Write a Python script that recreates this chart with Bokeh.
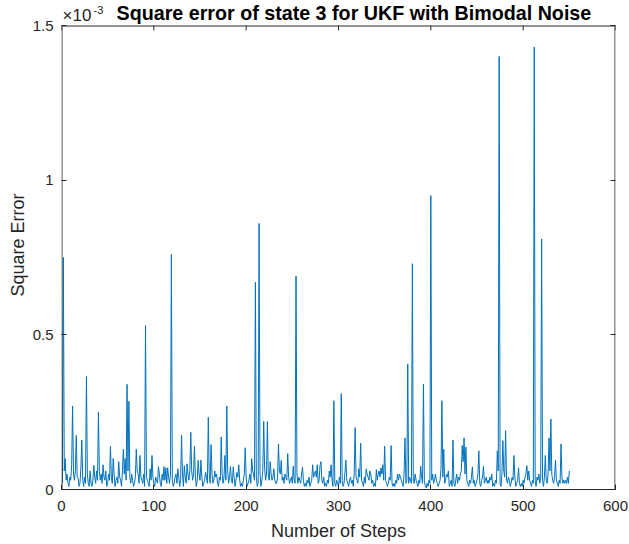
from bokeh.plotting import figure
from bokeh.models import (Range1d, LinearAxis, Label, FixedTicker,
                          CustomLabelingPolicy, BoxAnnotation)
from bokeh.embed import file_html
from bokeh.resources import INLINE

# Square error of state 3 (values in units of 1e-3), steps 1..550
sq_err_e3 = [
    0.02, 0.75, 0.06, 0.10, 0.03, 0.05, 0.02, 0.01, 0.04, 0.03,
    0.08, 0.27, 0.05, 0.03, 0.06, 0.175, 0.04, 0.035, 0.01, 0.02,
    0.07, 0.16, 0.03, 0.01, 0.04, 0.02, 0.365, 0.05, 0.02, 0.01,
    0.06, 0.02, 0.01, 0.03, 0.078, 0.04, 0.02, 0.06, 0.03, 0.25,
    0.06, 0.03, 0.05, 0.02, 0.08, 0.04, 0.03, 0.06, 0.01, 0.02,
    0.05, 0.03, 0.14, 0.04, 0.02, 0.10, 0.05, 0.01, 0.03, 0.04,
    0.02, 0.09, 0.04, 0.03, 0.01, 0.06, 0.13, 0.05, 0.10, 0.03,
    0.34, 0.06, 0.285, 0.04, 0.02, 0.05, 0.03, 0.01, 0.02, 0.04,
    0.13, 0.06, 0.05, 0.02, 0.11, 0.04, 0.03, 0.02, 0.05, 0.01,
    0.53, 0.04, 0.03, 0.02, 0.01, 0.067, 0.03, 0.11, 0.04, 0.02,
    0.01, 0.04, 0.03, 0.02, 0.074, 0.05, 0.02, 0.01, 0.05, 0.03,
    0.074, 0.03, 0.07, 0.02, 0.07, 0.04, 0.02, 0.05, 0.76, 0.03,
    0.01, 0.02, 0.04, 0.05, 0.02, 0.067, 0.04, 0.01, 0.03, 0.175,
    0.05, 0.01, 0.077, 0.04, 0.02, 0.083, 0.05, 0.03, 0.06, 0.185,
    0.06, 0.03, 0.05, 0.14, 0.04, 0.01, 0.03, 0.094, 0.05, 0.03,
    0.095, 0.04, 0.01, 0.02, 0.03, 0.056, 0.04, 0.02, 0.233, 0.05,
    0.02, 0.145, 0.05, 0.02, 0.03, 0.06, 0.04, 0.05, 0.02, 0.01,
    0.04, 0.03, 0.17, 0.05, 0.02, 0.04, 0.11, 0.03, 0.27, 0.06,
    0.02, 0.04, 0.075, 0.03, 0.02, 0.073, 0.04, 0.01, 0.03, 0.055,
    0.04, 0.08, 0.03, 0.01, 0.02, 0.01, 0.03, 0.05, 0.135, 0.04,
    0.01, 0.02, 0.03, 0.05, 0.02, 0.10, 0.06, 0.05, 0.03, 0.67,
    0.04, 0.01, 0.02, 0.86, 0.05, 0.01, 0.03, 0.06, 0.22, 0.07,
    0.03, 0.05, 0.22, 0.04, 0.03, 0.09, 0.05, 0.03, 0.04, 0.067,
    0.03, 0.02, 0.02, 0.04, 0.147, 0.06, 0.05, 0.094, 0.03, 0.04,
    0.02, 0.05, 0.04, 0.03, 0.116, 0.04, 0.02, 0.03, 0.04, 0.02,
    0.075, 0.03, 0.02, 0.69, 0.05, 0.02, 0.04, 0.03, 0.02, 0.05,
    0.072, 0.03, 0.01, 0.02, 0.01, 0.03, 0.02, 0.04, 0.01, 0.02,
    0.03, 0.08, 0.04, 0.05, 0.06, 0.04, 0.08, 0.02, 0.03, 0.077,
    0.09, 0.03, 0.02, 0.04, 0.01, 0.02, 0.01, 0.03, 0.02, 0.06,
    0.04, 0.08, 0.03, 0.01, 0.287, 0.02, 0.01, 0.03, 0.02, 0.01,
    0.04, 0.02, 0.31, 0.03, 0.01, 0.02, 0.056, 0.095, 0.03, 0.02,
    0.01, 0.03, 0.04, 0.02, 0.03, 0.01, 0.05, 0.20, 0.04, 0.03,
    0.02, 0.067, 0.04, 0.15, 0.03, 0.02, 0.01, 0.04, 0.02, 0.067,
    0.05, 0.04, 0.03, 0.06, 0.05, 0.02, 0.03, 0.01, 0.02, 0.01,
    0.064, 0.03, 0.05, 0.06, 0.04, 0.07, 0.05, 0.08, 0.03, 0.14,
    0.03, 0.02, 0.01, 0.02, 0.04, 0.03, 0.142, 0.02, 0.01, 0.02,
    0.01, 0.03, 0.02, 0.05, 0.03, 0.05, 0.04, 0.03, 0.02, 0.01,
    0.05, 0.167, 0.02, 0.03, 0.406, 0.02, 0.04, 0.03, 0.02, 0.73,
    0.03, 0.02, 0.05, 0.03, 0.02, 0.01, 0.03, 0.02, 0.075, 0.04,
    0.02, 0.34, 0.03, 0.01, 0.005, 0.02, 0.01, 0.03, 0.02, 0.95,
    0.03, 0.05, 0.02, 0.03, 0.05, 0.03, 0.02, 0.01, 0.02, 0.03,
    0.067, 0.287, 0.04, 0.13, 0.02, 0.03, 0.05, 0.04, 0.06, 0.01,
    0.02, 0.03, 0.01, 0.16, 0.02, 0.01, 0.03, 0.05, 0.02, 0.04,
    0.03, 0.05, 0.06, 0.142, 0.09, 0.167, 0.05, 0.137, 0.03, 0.02,
    0.01, 0.03, 0.02, 0.04, 0.073, 0.02, 0.03, 0.01, 0.02, 0.03,
    0.05, 0.125, 0.02, 0.01, 0.03, 0.04, 0.075, 0.02, 0.03, 0.04,
    0.02, 0.03, 0.02, 0.04, 0.03, 0.05, 0.01, 0.02, 0.01, 0.03,
    0.02, 0.125, 0.06, 1.40, 0.02, 0.01, 0.05, 0.158, 0.06, 0.04,
    0.19, 0.03, 0.02, 0.04, 0.03, 0.01, 0.02, 0.04, 0.03, 0.11,
    0.04, 0.01, 0.02, 0.03, 0.07, 0.02, 0.01, 0.02, 0.01, 0.03,
    0.02, 0.04, 0.05, 0.077, 0.03, 0.06, 0.03, 0.02, 0.01, 0.03,
    0.02, 1.43, 0.03, 0.01, 0.04, 0.03, 0.05, 0.02, 0.04, 0.81,
    0.03, 0.01, 0.04, 0.11, 0.03, 0.02, 0.05, 0.167, 0.06, 0.228,
    0.05, 0.03, 0.02, 0.04, 0.094, 0.03, 0.02, 0.01, 0.03, 0.02,
    0.147, 0.04, 0.02, 0.03, 0.02, 0.03, 0.02, 0.04, 0.02, 0.06,
]
steps = list(range(1, len(sq_err_e3) + 1))

x_ticks = [0, 100, 200, 300, 400, 500, 600]
y_ticks = [0, 0.5, 1, 1.5]
y_tick_labels = ["0", "0.5", "1", "1.5"]

title_text = "Square error of state 3 for UKF with Bimodal Noise"
x_label = "Number of Steps"
y_label = "Square Error"

FONT = "Liberation Sans"
INK = "#262626"

# axes box geometry (pixels)
W, H = 629, 544
LEFT, RIGHT, BOTTOM = 61, 14, 55
BOX_H = 464                     # pixel height of the 0..1.5 box
Y_MAX = 1.5
X_MAX = 600
px_y = Y_MAX / BOX_H            # data units per pixel (y)
px_x = X_MAX / (W - LEFT - RIGHT)
frame_h = H - BOTTOM            # frame extends to canvas top, box is drawn inside

p = figure(width=W, height=H, output_backend="svg", toolbar_location=None,
           title=None,
           x_range=Range1d(0, X_MAX), y_range=Range1d(0, frame_h * px_y),
           min_border_left=LEFT, min_border_right=RIGHT,
           min_border_top=0, min_border_bottom=BOTTOM,
           background_fill_color="white", border_fill_color="white")
p.xgrid.visible = False
p.ygrid.visible = False
p.outline_line_color = None

p.line(steps, sq_err_e3, line_color="#0072BD", line_width=1)

# the axes box (0..600 x 0..1.5), edges nudged half a pixel inward for crisp lines
p.add_layout(BoxAnnotation(left=0.5 * px_x, right=X_MAX - 0.5 * px_x,
                           bottom=0, top=Y_MAX - 0.5 * px_y,
                           fill_alpha=0, fill_color=None,
                           line_color=INK, line_alpha=1.0, line_width=1))
# inward ticks along the top edge of the box
p.segment(x0=x_ticks, y0=[Y_MAX] * len(x_ticks), x1=x_ticks,
          y1=[Y_MAX - 5 * px_y] * len(x_ticks), line_color=INK, line_width=1)

hide_all = CustomLabelingPolicy(
    code="for (let i = 0; i < indices.size; i++) { indices.unset(i) }; return indices")


def style_axis(ax, show_labels=True):
    ax.major_tick_in = 5
    ax.major_tick_out = 0
    ax.minor_tick_in = 0
    ax.minor_tick_out = 0
    ax.axis_line_color = INK
    ax.major_tick_line_color = INK
    ax.major_label_text_font = FONT
    ax.major_label_text_color = INK
    ax.axis_label_text_font = FONT
    ax.axis_label_text_color = INK
    ax.axis_label_text_font_style = "normal"
    if not show_labels:
        ax.major_label_text_font_size = "1px"
        ax.major_label_standoff = 0
        ax.major_label_policy = hide_all


xa = p.xaxis[0]
xa.ticker = FixedTicker(ticks=x_ticks)
style_axis(xa)
xa.major_label_text_font_size = "15px"
xa.major_label_standoff = 11
xa.axis_label = x_label
xa.axis_label_text_font_size = "18px"
xa.axis_label_standoff = 7

ya = p.yaxis[0]
ya.ticker = FixedTicker(ticks=y_ticks)
ya.major_label_overrides = {t: s for t, s in zip(y_ticks, y_tick_labels)}
style_axis(ya)
ya.axis_line_color = None
ya.major_label_text_font_size = "15px"
ya.major_label_standoff = 8
ya.axis_label = y_label
ya.axis_label_text_font_size = "18px"
ya.axis_label_standoff = 2

right = LinearAxis(ticker=FixedTicker(ticks=y_ticks))
style_axis(right, show_labels=False)
right.axis_line_color = None
p.add_layout(right, "right")

# title and exponent marker, placed above the box
p.add_layout(Label(x=55 * px_x, y=Y_MAX + 13 * px_y, text=title_text,
                   text_font=FONT, text_font_size="19.7px", text_font_style="bold",
                   text_color="black", text_baseline="middle", text_align="left"))
p.add_layout(Label(x=1 * px_x, y=Y_MAX + 10 * px_y, text="\u00d710",
                   text_font=FONT, text_font_size="17px", text_color=INK,
                   text_baseline="middle", text_align="left"))
p.add_layout(Label(x=32 * px_x, y=Y_MAX + 16 * px_y, text="-3",
                   text_font=FONT, text_font_size="11px", text_color=INK,
                   text_baseline="middle", text_align="left"))

open("out.html", "w").write(file_html(p, INLINE))
